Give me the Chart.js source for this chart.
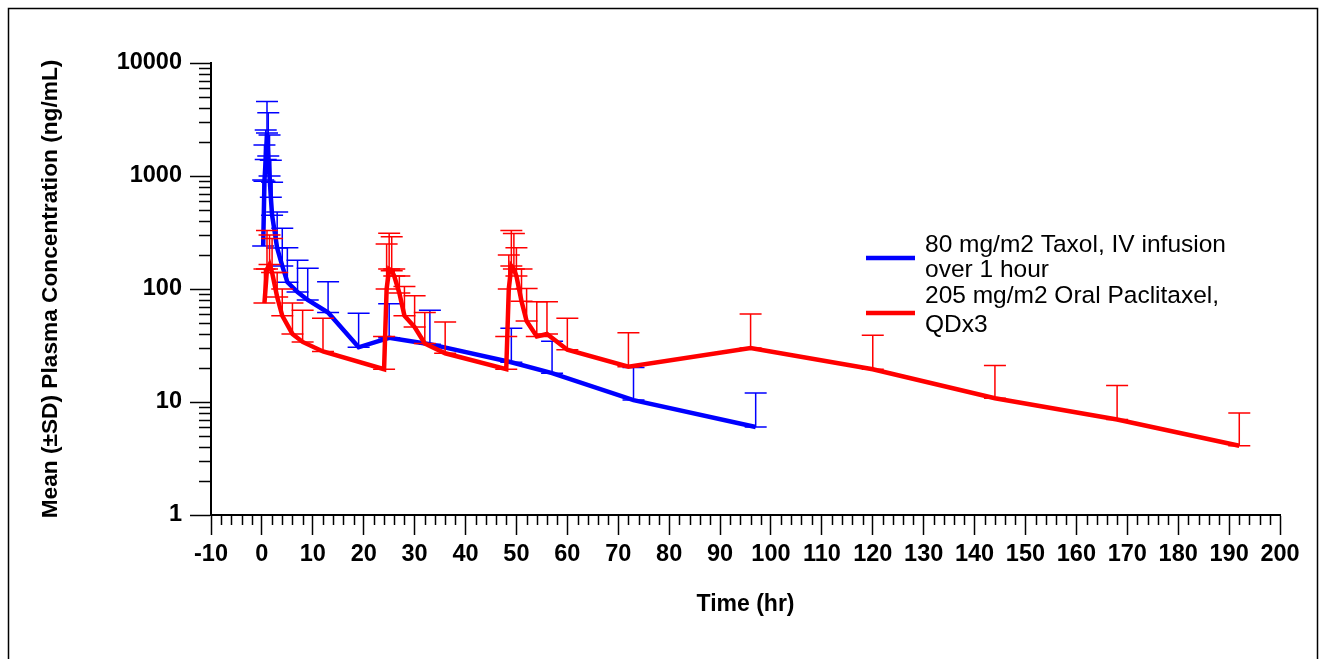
<!DOCTYPE html>
<html><head><meta charset="utf-8">
<script src="https://cdn.jsdelivr.net/npm/chart.js@4/dist/chart.umd.min.js"></script>
<style>html,body{margin:0;padding:0;background:#fff;} canvas{display:block;}</style>
</head><body>
<canvas id="c" width="1325" height="659"></canvas>
<script>
// ---- data ----
const ivTimes  = [0.25, 0.5, 0.75, 1, 1.25, 1.5, 1.75, 2, 3, 4, 5, 7, 9, 13, 19, 25, 33, 49, 57, 73, 97];
const ivMean   = [240, 900, 1400, 2400, 1500, 1000, 650, 450, 230, 160, 115, 94, 80, 62, 30.5, 37, 32.5, 22.5, 18, 10.4, 6];
const ivUpper  = [920, 1880, 2550, 4570, 3630, 2300, 1380, 880, 480, 345, 232, 180, 153, 116, 61, 74, 65, 45, 34.5, 20.2, 12];

const oralTimes = [0.5, 1, 1.5, 2, 3, 4, 6, 8, 12, 24,
                   24.5, 25, 25.5, 26, 27, 28, 30, 32, 36, 48,
                   48.5, 49, 49.5, 50, 51, 52, 54, 56, 60, 72,
                   96, 120, 144, 168, 192];
const oralMean  = [75, 150, 165, 140, 85, 58, 40, 34, 28, 19.5,
                   100, 150, 145, 130, 92, 58, 46, 33, 27, 19.5,
                   100, 160, 150, 130, 78, 52, 38, 40, 29, 20.5,
                   30, 19.5, 10.8, 7, 4.1];
const oralUpper = [150, 330, 300, 280, 140, 100, 75, 65, 55, 38,
                   250, 312, 290, 150, 130, 105, 87, 62, 51, 38,
                   200, 330, 310, 232, 150, 101, 77, 77, 55, 41,
                   60, 39, 21, 14, 8];

const xMajor = [-10,0,10,20,30,40,50,60,70,80,90,100,110,120,130,140,150,160,170,180,190,200];
const yMajor = [1,10,100,1000,10000];
const seriesNames = [["80 mg/m2 Taxol, IV infusion","over 1 hour"],["205 mg/m2 Oral Paclitaxel,","QDx3"]];
const seriesColors = ["#0000ff","#ff0000"];
const xTitle = "Time (hr)";
const yTitle = "Mean (\u00b1SD) Plasma Concentration (ng/mL)";

const FONT = "'Liberation Sans', Arial, sans-serif";

function pts(t, v){ return t.map((x,i)=>({x:x, y:v[i]})); }

const errorBars = {
  id:'errorBars',
  afterDatasetDraw(chart, args){
    const ds = chart.data.datasets[args.index];
    if(!ds.upper) return;
    const xs = chart.scales.x, ys = chart.scales.y, ctx = chart.ctx, a = chart.chartArea;
    ctx.save();
    ctx.beginPath(); ctx.rect(a.left, a.top-5, a.right-a.left, a.bottom-a.top+5); ctx.clip();
    ctx.strokeStyle = ds.borderColor; ctx.lineWidth = 1.5;
    ds.data.forEach((p,i)=>{
      const px = xs.getPixelForValue(p.x), py = ys.getPixelForValue(p.y), pu = ys.getPixelForValue(ds.upper[i]);
      ctx.beginPath();
      ctx.moveTo(px,py); ctx.lineTo(px,pu);
      ctx.moveTo(px-11,pu); ctx.lineTo(px+11,pu);
      ctx.moveTo(px-11,py); ctx.lineTo(px+11,py);
      ctx.stroke();
    });
    ctx.restore();
  }
};

const minorTicks = {
  id:'minorTicks',
  afterDraw(chart){
    const xs = chart.scales.x, ys = chart.scales.y, ctx = chart.ctx, a = chart.chartArea;
    ctx.save();
    ctx.strokeStyle = '#000'; ctx.lineWidth = 1.5;
    ctx.beginPath();
    for(let d=1; d<10000; d*=10){
      for(let k=2;k<=9;k++){
        const y = Math.round(ys.getPixelForValue(k*d))+0.5;
        ctx.moveTo(a.left-12, y); ctx.lineTo(a.left, y);
      }
    }
    for(let v=-10; v<=200; v+=2){
      if(v%10===0) continue;
      const x = Math.round(xs.getPixelForValue(v))+0.5;
      ctx.moveTo(x, a.bottom); ctx.lineTo(x, a.bottom+10);
    }
    ctx.stroke();
    // frame
    ctx.lineWidth = 1.5;
    ctx.strokeRect(8.5, 8.5, 1309, 700);
    ctx.restore();
  }
};

const customLegend = {
  id:'customLegend',
  afterDraw(chart){
    const ctx = chart.ctx;
    ctx.save();
    ctx.font = "24.5px " + FONT;
    ctx.fillStyle = '#000';
    ctx.textBaseline = 'middle';
    const x0 = 866, x1 = 915, tx = 925;
    const rows = [[245,270,258],[296,325,313]];
    rows.forEach((r,i)=>{
      ctx.strokeStyle = seriesColors[i]; ctx.lineWidth = 4.5;
      ctx.beginPath(); ctx.moveTo(x0, r[2]); ctx.lineTo(x1, r[2]); ctx.stroke();
      ctx.fillText(seriesNames[i][0], tx, r[0]);
      ctx.fillText(seriesNames[i][1], tx, r[1]);
    });
    ctx.restore();
  }
};

new Chart(document.getElementById('c'), {
  type:'line',
  data:{ datasets:[
    { label: seriesNames[0].join(' '), data: pts(ivTimes, ivMean), upper: ivUpper,
      borderColor: seriesColors[0], borderWidth: 4.5, pointRadius: 0, tension: 0, fill:false, order: 2 },
    { label: seriesNames[1].join(' '), data: pts(oralTimes, oralMean), upper: oralUpper,
      borderColor: seriesColors[1], borderWidth: 4.5, pointRadius: 0, tension: 0, fill:false, order: 1 }
  ]},
  options:{
    responsive:false, animation:false, devicePixelRatio:1,
    layout:{ padding:{ left:0, right:45, top:63, bottom:0 } },
    plugins:{ legend:{display:false}, tooltip:{enabled:false} },
    scales:{
      x:{ type:'linear', min:-10, max:200,
        afterBuildTicks(s){ s.ticks = xMajor.map(v=>({value:v})); },
        afterFit(s){ s.height = 659-515; },
        grid:{ drawOnChartArea:false, drawTicks:true, tickLength:20, tickColor:'#000', tickWidth:1.5 },
        border:{ display:true, color:'#000', width:2 },
        ticks:{ autoSkip:false, maxRotation:0, padding:5, color:'#000',
          font:{ family:FONT, size:23.5, weight:'bold' }, callback:(v)=>String(v) },
        title:{ display:true, text:xTitle, color:'#000', font:{ family:FONT, size:23, weight:'bold' },
          padding:{ top:0, bottom:41 } }
      },
      y:{ type:'logarithmic', min:1, max:10000,
        afterBuildTicks(s){ s.ticks = yMajor.map(v=>({value:v})); },
        afterFit(s){ s.width = 211; },
        grid:{ drawOnChartArea:false, drawTicks:true, tickLength:21, tickColor:'#000', tickWidth:1.5 },
        border:{ display:true, color:'#000', width:2 },
        ticks:{ autoSkip:false, padding:8, color:'#000',
          font:{ family:FONT, size:23.5, weight:'bold' }, callback:(v)=>String(v) },
        title:{ display:true, text:yTitle, color:'#000', font:{ family:FONT, size:22.7, weight:'bold' },
          padding:{ top:37, bottom:0 } }
      }
    }
  },
  plugins:[errorBars, minorTicks, customLegend]
});
</script>
</body></html>
